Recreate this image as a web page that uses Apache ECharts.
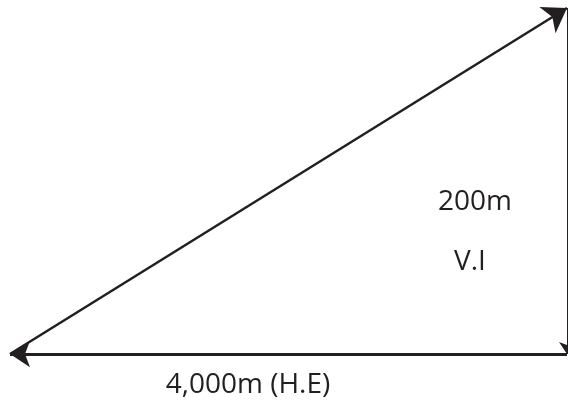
<!DOCTYPE html>
<html>
<head>
<meta charset="utf-8">
<script src="https://cdn.jsdelivr.net/npm/echarts@6/dist/echarts.min.js"></script>
<style>html,body{margin:0;padding:0;background:#fff}#c{width:568px;height:404px}</style>
</head>
<body>
<div id="c"></div>
<script>
// Horizontal extent (m) and vertical interval (m)
var horizontalExtent = 4000;
var verticalInterval = 200;
// Triangle edges: [from, to]
var diagonalEdge = [[0, 0], [4000, 200]];
var baseEdge = [[4000, 0], [0, 0]];
var sideEdge = [[4000, 200], [4000, 0]];
// Labels: [x, y, text]
var labelPoints = [
  [3339, 88, '200m'],
  [3303, 53, 'V.I'],
  [1709, -18, '4,000m (H.E)']
];

var ink = '#231f20';
var chart = echarts.init(document.getElementById('c'), null, {renderer: 'canvas'});
chart.setOption({
  animation: false,
  grid: {left: 10, right: 1, top: 8, bottom: 50},
  xAxis: {type: 'value', min: 0, max: horizontalExtent, show: false},
  yAxis: {type: 'value', min: 0, max: verticalInterval, show: false},
  series: [
    {
      type: 'lines', coordinateSystem: 'cartesian2d', silent: true, clip: false,
      symbol: ['none', 'arrow'], symbolSize: [0, 23],
      lineStyle: {color: ink, width: 2.5, opacity: 1},
      data: [{coords: diagonalEdge}]
    },
    {
      type: 'lines', coordinateSystem: 'cartesian2d', silent: true, clip: false,
      symbol: ['none', 'arrow'], symbolSize: [0, 20],
      lineStyle: {color: ink, width: 3, opacity: 1},
      data: [{coords: baseEdge}]
    },
    {
      type: 'lines', coordinateSystem: 'cartesian2d', silent: true, clip: false,
      symbol: ['none', 'arrow'], symbolSize: [0, 12],
      lineStyle: {color: ink, width: 1, opacity: 1},
      data: [{coords: sideEdge}]
    },
    {
      type: 'scatter', clip: false, silent: true, symbolSize: 0,
      itemStyle: {opacity: 1},
      data: labelPoints.map(function (p) { return {value: [p[0], p[1]], name: p[2]}; }),
      label: {
        show: true, position: 'inside', formatter: '{b}', opacity: 1,
        color: ink, textBorderWidth: 0, fontFamily: 'Open Sans', fontSize: 28
      }
    }
  ]
});
</script>
</body>
</html>
